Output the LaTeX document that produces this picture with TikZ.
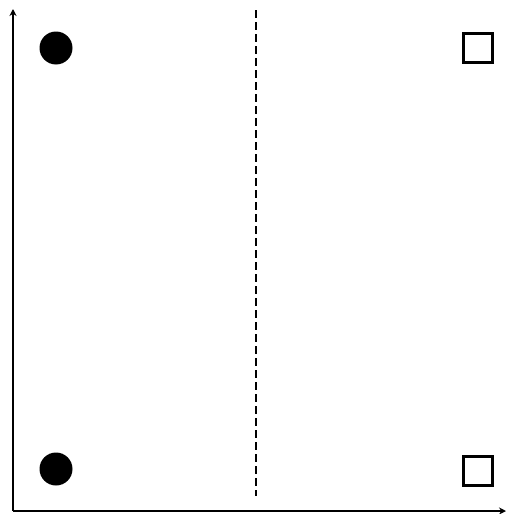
\documentclass[tikz,border=0pt]{standalone}
\usetikzlibrary{arrows.meta}
\begin{document}
\begin{tikzpicture}[x=1pt,y=-1pt,
  axis/.style={line width=2.6pt,-{Stealth[length=7pt,width=7pt]}},
  dot/.style={circle,fill=black,inner sep=0pt,minimum size=33pt},
  sq/.style={draw,line width=2.6pt,inner sep=0pt,minimum size=29pt},
  divider/.style={line width=2pt,dash pattern=on 8pt off 4pt}]
\useasboundingbox (0,0) rectangle (507,514);
\coordinate (o) at (13,511);
\coordinate (ytop) at (13,9);
\coordinate (xend) at (506,511);
\draw[axis] (o) -- (ytop);
\draw[axis] (o) -- (xend);
\node[dot] (c1) at (56,48) {};
\node[dot] (c2) at (56,469) {};
\node[sq] (s1) at (478,48) {};
\node[sq] (s2) at (478,471) {};
\coordinate (dtop) at (256,10);
\coordinate (dbot) at (256,496);
\draw[divider] (dtop) -- (dbot);
\end{tikzpicture}
\end{document}
